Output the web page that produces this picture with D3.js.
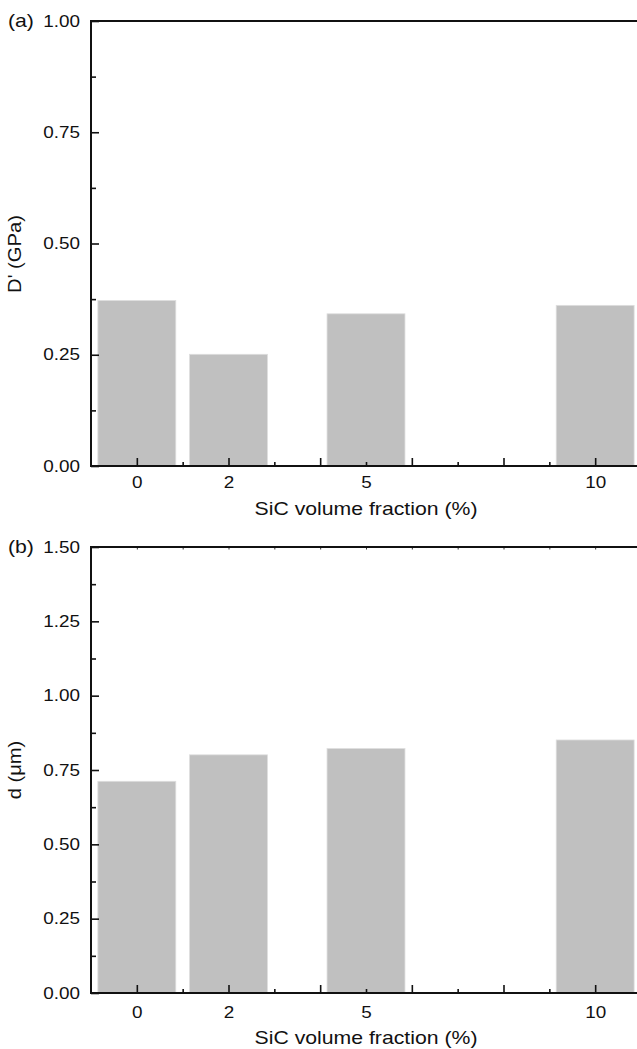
<!DOCTYPE html>
<html>
<head>
<meta charset="utf-8">
<script src="https://cdn.jsdelivr.net/npm/d3@7"></script>
<style>
  body { margin: 0; background: #fff; }
  svg { display: block; }
</style>
</head>
<body>
<div id="chart"></div>
<script>
// SiC volume fraction (%) of each sample
const fractions = [0, 2, 5, 10];
// panel (a): D' (GPa)
const storageModulus = [0.372, 0.251, 0.342, 0.361];
// panel (b): d (um)
const grainSize = [0.712, 0.801, 0.822, 0.851];

const xLabelTicks = [0, 2, 5, 10];
const xMajorTicks = [0, 2, 4, 6, 8, 10];
const xMinorTicks = [1, 3, 5, 7, 9];
const yTicksA = [0, 0.25, 0.5, 0.75, 1.0];
const yTicksB = [0, 0.25, 0.5, 0.75, 1.0, 1.25, 1.5];

const width = 637, height = 1049;
const font = "'Liberation Sans', Arial, Helvetica, sans-serif";
const stretch = 1.18; // glyphs in the figure are a bit wide

const svg = d3.select("#chart").append("svg")
  .attr("width", width)
  .attr("height", height);

svg.append("rect").attr("width", width).attr("height", height).attr("fill", "#fff");

// shared x scale (bars sit at their fraction value)
const x = d3.scaleLinear().domain([-1, 11]).range([91, 641]);
const barWidth = x(1.7) - x(0);

const panels = [
  { tag: "(a)", values: storageModulus, yMax: 1.0, yTicks: yTicksA, top: 21, bottom: 466,
    yTitle: "D' (GPa)", yTitleMid: 254, labelPad: 10.9, titleGap: 49, topTicks: false },
  { tag: "(b)", values: grainSize, yMax: 1.5, yTicks: yTicksB, top: 547, bottom: 993,
    yTitle: "d (\u03bcm)", yTitleMid: 770, labelPad: 13.9, titleGap: 50.7, topTicks: true }
];

panels.forEach(p => drawPanel(p));

function drawPanel(p) {
  const y = d3.scaleLinear().domain([0, p.yMax]).range([p.bottom, p.top]);
  const g = svg.append("g");

  // bars
  g.selectAll("rect.bar")
    .data(fractions.map((f, i) => ({ f: f, v: p.values[i] })))
    .enter()
    .append("rect")
    .attr("class", "bar")
    .attr("x", d => x(d.f) - barWidth / 2)
    .attr("y", d => y(d.v))
    .attr("width", barWidth)
    .attr("height", d => y(0) - y(d.v))
    .attr("fill", "#c0c0c0")
    .attr("stroke", "#dedede")
    .attr("stroke-width", 0.8);

  // minor y ticks at the midpoints
  const yMinor = p.yTicks.slice(1).map((t, i) => (t + p.yTicks[i]) / 2);

  // y axis, major
  const yAxis = g.append("g")
    .attr("transform", `translate(${x(-1)},0)`)
    .call(d3.axisLeft(y).tickValues(p.yTicks).tickSize(-8).tickFormat(d3.format(".2f")));
  yAxis.select(".domain").remove();
  yAxis.selectAll("line").attr("stroke", "#111").attr("stroke-width", 1.6);
  yAxis.selectAll("text")
    .attr("x", 0)
    .attr("transform", `translate(-11,0) scale(${stretch},1)`)
    .style("font-family", font)
    .style("font-size", "16px")
    .attr("fill", "#111");

  // y axis, minor
  const yAxisMinor = g.append("g")
    .attr("transform", `translate(${x(-1)},0)`)
    .call(d3.axisLeft(y).tickValues(yMinor).tickSize(-5).tickFormat(""));
  yAxisMinor.select(".domain").remove();
  yAxisMinor.selectAll("line").attr("stroke", "#111").attr("stroke-width", 1.6);

  // x axis ticks
  const xMajor = g.append("g")
    .attr("transform", `translate(0,${p.bottom})`)
    .call(d3.axisBottom(x).tickValues(xMajorTicks).tickSize(-8).tickFormat(""));
  xMajor.select(".domain").remove();
  xMajor.selectAll("line").attr("stroke", "#111").attr("stroke-width", 1.6);

  const xMinor = g.append("g")
    .attr("transform", `translate(0,${p.bottom})`)
    .call(d3.axisBottom(x).tickValues(xMinorTicks).tickSize(-4).tickFormat(""));
  xMinor.select(".domain").remove();
  xMinor.selectAll("line").attr("stroke", "#111").attr("stroke-width", 1.6);

  // x tick labels
  const xLabels = g.append("g")
    .attr("transform", `translate(0,${p.bottom})`)
    .call(d3.axisBottom(x).tickValues(xLabelTicks).tickSize(0).tickPadding(p.labelPad));
  xLabels.select(".domain").remove();
  xLabels.selectAll("text")
    .attr("transform", `scale(${stretch},1)`)
    .attr("x", 0)
    .style("font-family", font)
    .style("font-size", "16px")
    .attr("fill", "#111");
  // keep the labels centred after stretching
  xLabels.selectAll(".tick text").attr("transform", `scale(${stretch},1)`);

  // tiny ticks under the top edge of panel (b)
  if (p.topTicks) {
    const xTop = g.append("g")
      .attr("transform", `translate(0,${p.top})`)
      .call(d3.axisTop(x).tickValues(d3.range(0, 11)).tickSize(-2.5).tickFormat(""));
    xTop.select(".domain").remove();
    xTop.selectAll("line").attr("stroke", "#333").attr("stroke-width", 1);
  }

  // frame
  g.append("path")
    .attr("d", `M${x(11)},${p.top}H${x(-1)}V${p.bottom}H${x(11)}`)
    .attr("fill", "none")
    .attr("stroke", "#111")
    .attr("stroke-width", 2);

  // titles
  g.append("text")
    .attr("transform", `translate(${(x(-1) + x(11)) / 2},${p.bottom + p.titleGap}) scale(${stretch},1)`)
    .attr("text-anchor", "middle")
    .style("font-family", font)
    .style("font-size", "18px")
    .attr("fill", "#111")
    .text("SiC volume fraction (%)");

  g.append("text")
    .attr("transform", `translate(21,${p.yTitleMid}) rotate(-90) scale(1.12,1)`)
    .attr("text-anchor", "middle")
    .style("font-family", font)
    .style("font-size", "18px")
    .attr("fill", "#111")
    .text(p.yTitle);

  g.append("text")
    .attr("transform", `translate(8,${p.top + 6}) scale(${stretch},1)`)
    .style("font-family", font)
    .style("font-size", "18px")
    .attr("fill", "#111")
    .text(p.tag);
}
</script>
</body>
</html>
